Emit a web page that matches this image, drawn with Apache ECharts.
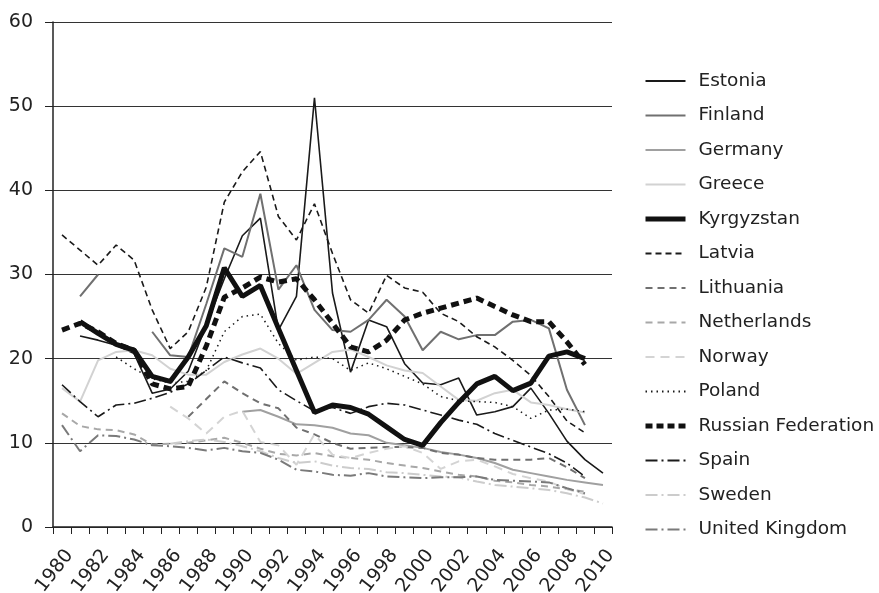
<!DOCTYPE html>
<html>
<head>
<meta charset="utf-8">
<script src="https://cdn.jsdelivr.net/npm/echarts@6/dist/echarts.min.js"></script>
<style>
  html, body { margin: 0; padding: 0; background: #fff; }
  #main { width: 879px; height: 593px; }
</style>
</head>
<body>
<div id="main"></div>
<script>
var years = [];
for (var y = 1980; y <= 2010; y++) years.push(String(y));

var estonia = [null, 22.7, 22.2, 21.6, 20.6, 15.9, 16.4, 18.5, 24.0, 29.5, 34.6, 36.7, 23.4, 27.4, 51.0, 27.8, 18.4, 24.6, 23.8, 19.4, 17.1, 16.9, 17.7, 13.3, 13.7, 14.3, 16.5, 13.5, 10.2, 8.0, 6.4];
var finland = [null, 27.4, 30.0, null, null, 23.2, 20.4, 20.2, 26.5, 33.1, 32.1, 39.6, 28.2, 31.1, 25.8, 23.4, 23.2, 24.6, 27.0, 25.0, 21.0, 23.2, 22.3, 22.8, 22.8, 24.4, 24.6, 23.6, 16.3, 12.1, null];
var germany = [null, null, null, null, null, null, null, null, null, null, 13.7, 13.9, 13.1, 12.2, 12.1, 11.8, 11.1, 10.9, 10.0, 9.7, 9.4, 8.9, 8.6, 8.2, 7.6, 6.8, 6.4, 6.0, 5.6, 5.3, 5.0];
var greece = [16.5, 14.9, 19.8, 20.8, 21.0, 20.4, 18.8, 18.1, 18.1, 19.6, 20.5, 21.2, 20.0, 18.2, 19.5, 20.8, 21.1, 20.2, 19.2, 18.6, 18.3, 16.7, 15.1, 15.0, 15.9, 16.3, 14.8, 14.5, 14.0, 13.6, null];
var kyrgyzstan = [null, 24.4, 23.0, 21.7, 21.0, 17.9, 17.3, 20.2, 23.9, 30.8, 27.4, 28.7, 23.6, 18.6, 13.6, 14.5, 14.2, 13.4, 11.9, 10.4, 9.7, 12.4, 14.8, 17.0, 17.9, 16.2, 17.1, 20.3, 20.8, 20.0, null];
var latvia = [34.7, 32.9, 31.1, 33.5, 31.7, 25.8, 21.2, 23.2, 28.5, 38.6, 42.2, 44.6, 36.9, 34.1, 38.4, 32.5, 27.0, 25.4, 29.9, 28.4, 27.9, 25.4, 24.4, 22.6, 21.4, 19.8, 18.0, 15.5, 12.6, 11.2, null];
var lithuania = [null, null, null, null, null, null, null, 13.1, 15.2, 17.3, 15.9, 14.7, 14.1, 11.8, 11.0, 10.0, 9.3, 9.4, 9.5, 9.5, 9.4, 8.8, 8.6, 8.2, 8.0, 8.0, 8.0, 8.2, 7.1, 5.8, null];
var netherlands = [13.5, 12.0, 11.6, 11.5, 11.0, 9.8, 9.9, 10.0, 10.3, 10.6, 10.0, 9.3, 8.7, 8.5, 8.8, 8.4, 8.2, 8.0, 7.6, 7.3, 7.0, 6.6, 6.2, 6.0, 5.5, 5.3, 5.0, 4.8, 4.5, 4.2, null];
var norway = [null, null, null, null, null, null, 14.3, 12.9, 11.1, 13.1, 13.8, 10.1, 9.7, 7.4, 11.0, 8.6, 8.2, 8.8, 9.3, 9.6, 8.8, 6.9, 7.8, 8.0, 7.2, 6.3, 5.8, 5.4, 4.5, 3.9, null];
var poland = [null, null, null, 20.2, 18.8, 17.6, 17.1, 17.3, 18.6, 23.2, 25.0, 25.3, 21.8, 19.8, 20.2, 20.0, 18.6, 19.5, 18.8, 17.9, 17.0, 15.5, 15.0, 14.9, 14.8, 14.3, 12.9, 13.9, 14.0, 13.7, null];
var russia = [23.4, 24.2, 23.2, 21.8, 21.0, 17.0, 16.4, 16.7, 21.5, 27.3, 28.4, 29.7, 29.1, 29.5, 27.0, 24.2, 21.4, 20.8, 22.2, 24.6, 25.4, 26.0, 26.6, 27.2, 26.2, 25.2, 24.4, 24.4, 22.0, 19.3, null];
var spain = [16.9, 14.9, 13.1, 14.5, 14.7, 15.3, 16.0, 17.0, 18.6, 20.2, 19.5, 18.9, 16.3, 15.0, 13.8, 14.2, 13.5, 14.3, 14.7, 14.5, 13.9, 13.3, 12.7, 12.2, 11.1, 10.3, 9.5, 8.7, 7.6, 6.0, null];
var sweden = [null, null, null, null, null, null, 9.9, 10.2, 10.4, 10.1, 9.6, 9.0, 8.2, 7.6, 7.8, 7.3, 7.0, 6.9, 6.5, 6.4, 6.2, 6.0, 5.9, 5.4, 5.0, 4.8, 4.6, 4.4, 4.0, 3.5, 2.8];
var unitedKingdom = [12.1, 9.0, 10.9, 10.8, 10.4, 9.7, 9.6, 9.4, 9.1, 9.4, 9.0, 8.8, 8.0, 6.8, 6.6, 6.2, 6.1, 6.4, 6.0, 5.9, 5.8, 5.9, 5.9, 6.0, 5.6, 5.5, 5.4, 5.3, 4.6, 4.0, null];

var yTicks = [0, 10, 20, 30, 40, 50, 60];
var legendNames = ['Estonia', 'Finland', 'Germany', 'Greece', 'Kyrgyzstan', 'Latvia', 'Lithuania',
                   'Netherlands', 'Norway', 'Poland', 'Russian Federation', 'Spain', 'Sweden', 'United Kingdom'];

function line(name, data, color, width, type) {
  return {
    name: name,
    type: 'line',
    data: data,
    symbol: 'none',
    animation: false,
    lineStyle: { color: color, width: width, type: type },
    itemStyle: { color: color }
  };
}

// thick series need their width set again on the legend icon
var legendData = legendNames.map(function (n) {
  if (n === 'Kyrgyzstan') return { name: n, lineStyle: { width: 5, type: 'solid' } };
  if (n === 'Russian Federation') return { name: n, lineStyle: { width: 5, type: [7, 4] } };
  return { name: n };
});

var chart = echarts.init(document.getElementById('main'));
chart.setOption({
  backgroundColor: '#fff',
  animation: false,
  textStyle: { fontFamily: 'DejaVu Sans, sans-serif' },
  grid: { left: 53, right: 267, top: 22, bottom: 66, outerBoundsMode: 'none', containLabel: false },
  xAxis: {
    type: 'category',
    data: years,
    boundaryGap: true,
    axisLine: { lineStyle: { color: '#222', width: 1.5 } },
    axisTick: { show: true, interval: 0, length: 7, lineStyle: { color: '#222' } },
    axisLabel: { interval: 1, rotate: 52, fontSize: 19, color: '#222', margin: 19, verticalAlign: 'top' }
  },
  yAxis: {
    type: 'value',
    min: yTicks[0],
    max: yTicks[yTicks.length - 1],
    interval: 10,
    axisLine: { show: true, lineStyle: { color: '#222', width: 1.5 } },
    axisTick: { show: true, length: 8, lineStyle: { color: '#222' } },
    axisLabel: { fontSize: 19, color: '#222', margin: 20 },
    splitLine: { lineStyle: { color: '#333', width: 1.2 } }
  },
  legend: {
    orient: 'vertical',
    left: 638,
    top: 66,
    itemWidth: 40,
    itemHeight: 14,
    itemGap: 14.5,
    itemStyle: { opacity: 0 },
    textStyle: { fontSize: 18.5, color: '#222', lineHeight: 20, padding: [0, 0, 0, 8] },
    data: legendData
  },
  series: [
    line('Estonia', estonia, '#1a1a1a', 1.6, 'solid'),
    line('Finland', finland, '#707070', 2, 'solid'),
    line('Germany', germany, '#a0a0a0', 2, 'solid'),
    line('Greece', greece, '#d2d2d2', 2, 'solid'),
    line('Lithuania', lithuania, '#707070', 2, [7, 5]),
    line('Netherlands', netherlands, '#a8a8a8', 2, [7, 5]),
    line('Norway', norway, '#d4d4d4', 2, [9, 6]),
    line('Sweden', sweden, '#cccccc', 2, [12, 4, 2, 4]),
    line('United Kingdom', unitedKingdom, '#7a7a7a', 2, [12, 4, 2, 4]),
    line('Spain', spain, '#1a1a1a', 1.6, [12, 4, 2, 4]),
    line('Poland', poland, '#1a1a1a', 1.5, [1.5, 4]),
    line('Latvia', latvia, '#1a1a1a', 1.6, [6, 4]),
    line('Russian Federation', russia, '#111', 5, [8, 5]),
    line('Kyrgyzstan', kyrgyzstan, '#111', 5, 'solid')
  ]
});
</script>
</body>
</html>
